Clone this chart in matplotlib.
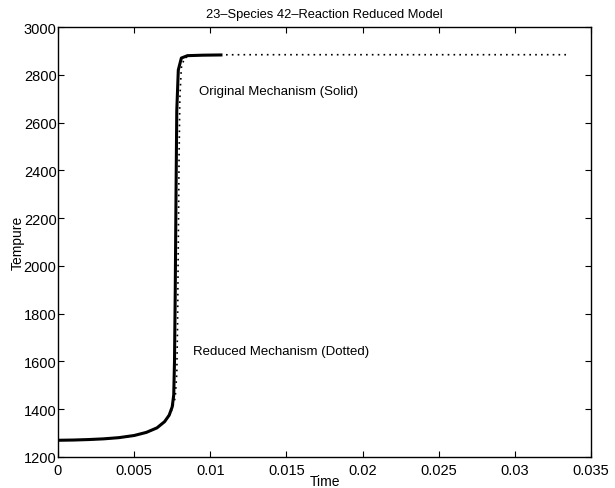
import matplotlib
matplotlib.use("Agg")
import matplotlib.pyplot as plt

plt.rcParams['font.family'] = ['Liberation Sans', 'DejaVu Sans']

# Original mechanism (solid)
t_orig = [0.0, 0.001, 0.002, 0.003, 0.004, 0.005, 0.0058, 0.0065, 0.0070, 0.0073,
          0.0075, 0.0076, 0.00765, 0.0077, 0.00775, 0.0078, 0.0079, 0.0081, 0.0085,
          0.0095, 0.0107]
T_orig = [1270, 1271, 1273, 1276, 1281, 1290, 1303, 1322, 1348, 1375,
          1410, 1460, 1600, 1900, 2300, 2650, 2820, 2870, 2880,
          2882, 2883]

# Reduced mechanism (dotted)
t_red = [0.0, 0.001, 0.002, 0.003, 0.004, 0.005, 0.0058, 0.0065, 0.0070, 0.0073,
         0.0075, 0.0077, 0.0078, 0.00785, 0.0079, 0.00795, 0.0080, 0.0081, 0.0083,
         0.0087, 0.0095, 0.012, 0.018, 0.025, 0.0335]
T_red = [1270, 1271, 1273, 1276, 1281, 1290, 1303, 1322, 1348, 1375,
         1400, 1450, 1550, 1750, 2100, 2450, 2700, 2830, 2870,
         2880, 2883, 2884, 2884, 2884, 2884]

x_ticks = [0, 0.005, 0.01, 0.015, 0.02, 0.025, 0.03, 0.035]
x_labels = ['0', '0.005', '0.01', '0.015', '0.02', '0.025', '0.03', '0.035']
y_ticks = [1200, 1400, 1600, 1800, 2000, 2200, 2400, 2600, 2800, 3000]

fig = plt.figure(figsize=(6.15, 4.89), dpi=100)
ax = fig.add_axes([58/615, 1 - 458/489, (591-58)/615, (458-28)/489])

ax.plot(t_red, T_red, color='black', linestyle=(0, (1, 2.5)), linewidth=1.2)
ax.plot(t_orig, T_orig, color='black', linestyle='-', linewidth=2.2)

ax.set_xlim(0, 0.035)
ax.set_ylim(1200, 3000)
ax.set_xticks(x_ticks)
ax.set_xticklabels(x_labels)
ax.set_yticks(y_ticks)
ax.tick_params(direction='in', top=True, right=True, length=4, labelsize=10.5)
ax.tick_params(axis='y', pad=1)
ax.tick_params(axis='x', pad=4)
for s in ax.spines.values():
    s.set_linewidth(1.0)

ax.set_title('23\u2013Species 42\u2013Reaction Reduced Model', fontsize=9.3, pad=7)
ax.set_xlabel('Time', fontsize=10, labelpad=-2)
ax.set_ylabel('Tempure', fontsize=10, labelpad=-1)

ax.text(0.00926, 2732, 'Original Mechanism (Solid)', fontsize=9.5, va='center', ha='left')
ax.text(0.00886, 1644, 'Reduced Mechanism (Dotted)', fontsize=9.5, va='center', ha='left')

fig.savefig('out.png', dpi=100)
